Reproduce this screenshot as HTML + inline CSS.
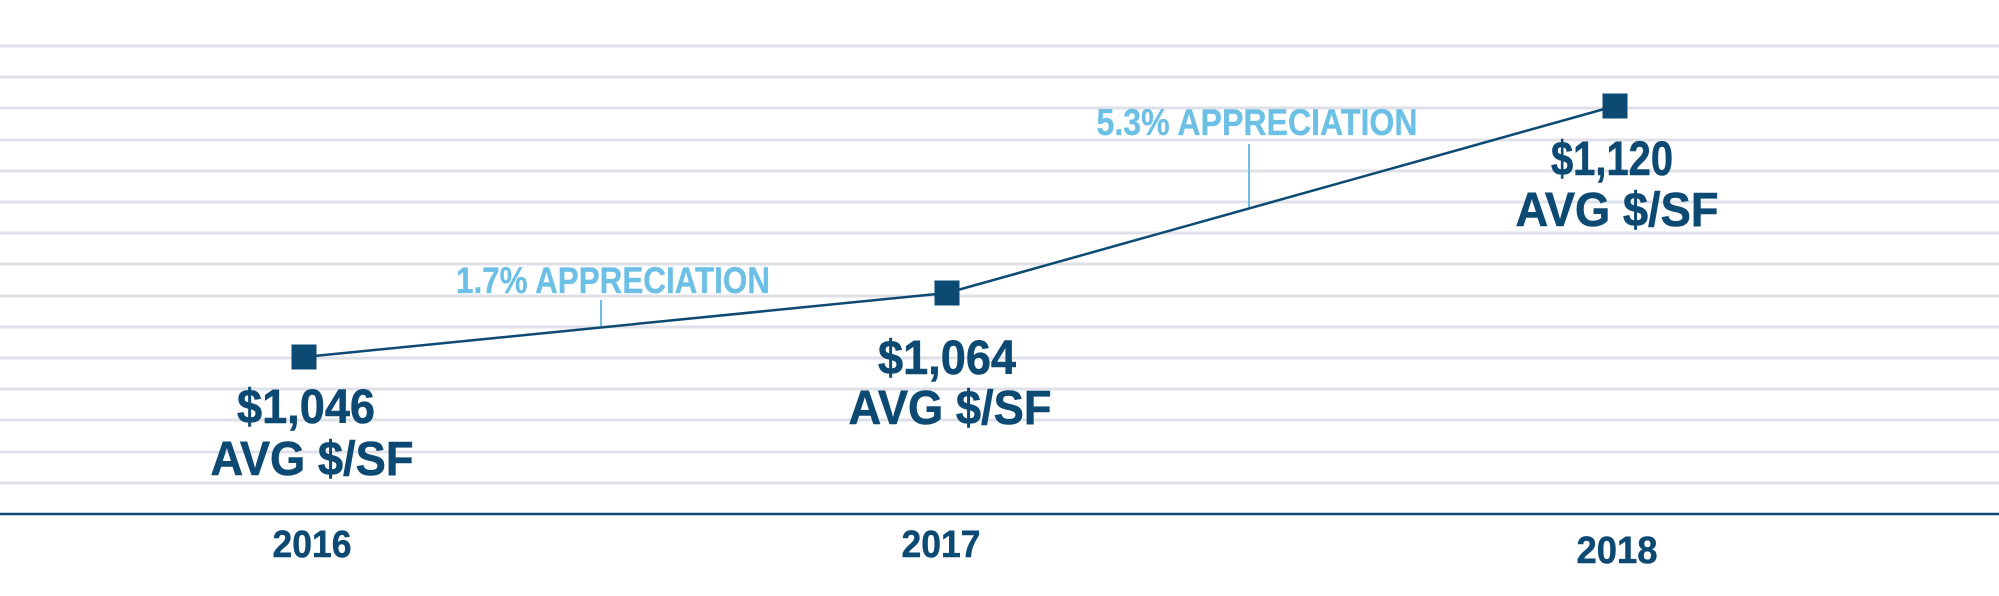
<!DOCTYPE html>
<html><head><style>
html,body{margin:0;padding:0;background:#fff;}
svg{display:block;}
text{font-family:"Liberation Sans",sans-serif;font-weight:bold;}
</style></head><body>
<svg width="1999" height="596" viewBox="0 0 1999 596" xmlns="http://www.w3.org/2000/svg">
<g stroke="#dfe0e8" stroke-width="3">
<line x1="0" x2="1999" y1="46" y2="46"/><line x1="0" x2="1999" y1="77" y2="77"/><line x1="0" x2="1999" y1="108" y2="108"/><line x1="0" x2="1999" y1="140" y2="140"/><line x1="0" x2="1999" y1="171" y2="171"/><line x1="0" x2="1999" y1="202" y2="202"/><line x1="0" x2="1999" y1="233" y2="233"/><line x1="0" x2="1999" y1="264" y2="264"/><line x1="0" x2="1999" y1="296" y2="296"/><line x1="0" x2="1999" y1="327" y2="327"/><line x1="0" x2="1999" y1="358" y2="358"/><line x1="0" x2="1999" y1="389" y2="389"/><line x1="0" x2="1999" y1="420" y2="420"/><line x1="0" x2="1999" y1="452" y2="452"/><line x1="0" x2="1999" y1="483" y2="483"/>
</g>
<line x1="0" x2="1999" y1="514" y2="514" stroke="#0d4a73" stroke-width="2.5"/>
<polyline points="304,357 947,293 1615,106" fill="none" stroke="#0d4a73" stroke-width="2.5"/>
<rect x="291.5" y="344.5" width="25" height="25" fill="#0d4a73"/>
<rect x="934.5" y="280.5" width="25" height="25" fill="#0d4a73"/>
<rect x="1602.5" y="93.5" width="25" height="25" fill="#0d4a73"/>
<line x1="601" x2="601" y1="300" y2="326" stroke="#6cc0e5" stroke-width="2"/>
<line x1="1249" x2="1249" y1="144" y2="207" stroke="#6cc0e5" stroke-width="2"/>
<g fill="#6cc0e5" font-size="37" text-anchor="middle" stroke="#6cc0e5" stroke-width="0.3">
<text x="613" y="293" textLength="314" lengthAdjust="spacingAndGlyphs">1.7% APPRECIATION</text>
<text x="1257" y="135" textLength="321" lengthAdjust="spacingAndGlyphs">5.3% APPRECIATION</text>
</g>
<g fill="#0d4a73" font-size="48" text-anchor="middle" stroke="#0d4a73" stroke-width="0.6">
<text x="306" y="423" textLength="138" lengthAdjust="spacingAndGlyphs">$1,046</text>
<text x="312" y="475" textLength="203" lengthAdjust="spacingAndGlyphs">AVG $/SF</text>
<text x="947" y="374" textLength="138" lengthAdjust="spacingAndGlyphs">$1,064</text>
<text x="950" y="424" textLength="203" lengthAdjust="spacingAndGlyphs">AVG $/SF</text>
<text x="1612" y="175" textLength="122" lengthAdjust="spacingAndGlyphs">$1,120</text>
<text x="1617" y="226" textLength="203" lengthAdjust="spacingAndGlyphs">AVG $/SF</text>
</g>
<g fill="#0d4a73" font-size="38" text-anchor="middle" stroke="#0d4a73" stroke-width="0.5">
<text x="312" y="557" textLength="79" lengthAdjust="spacingAndGlyphs">2016</text>
<text x="941" y="557" textLength="79" lengthAdjust="spacingAndGlyphs">2017</text>
<text x="1617" y="563" textLength="81" lengthAdjust="spacingAndGlyphs">2018</text>
</g>
</svg>
</body></html>
